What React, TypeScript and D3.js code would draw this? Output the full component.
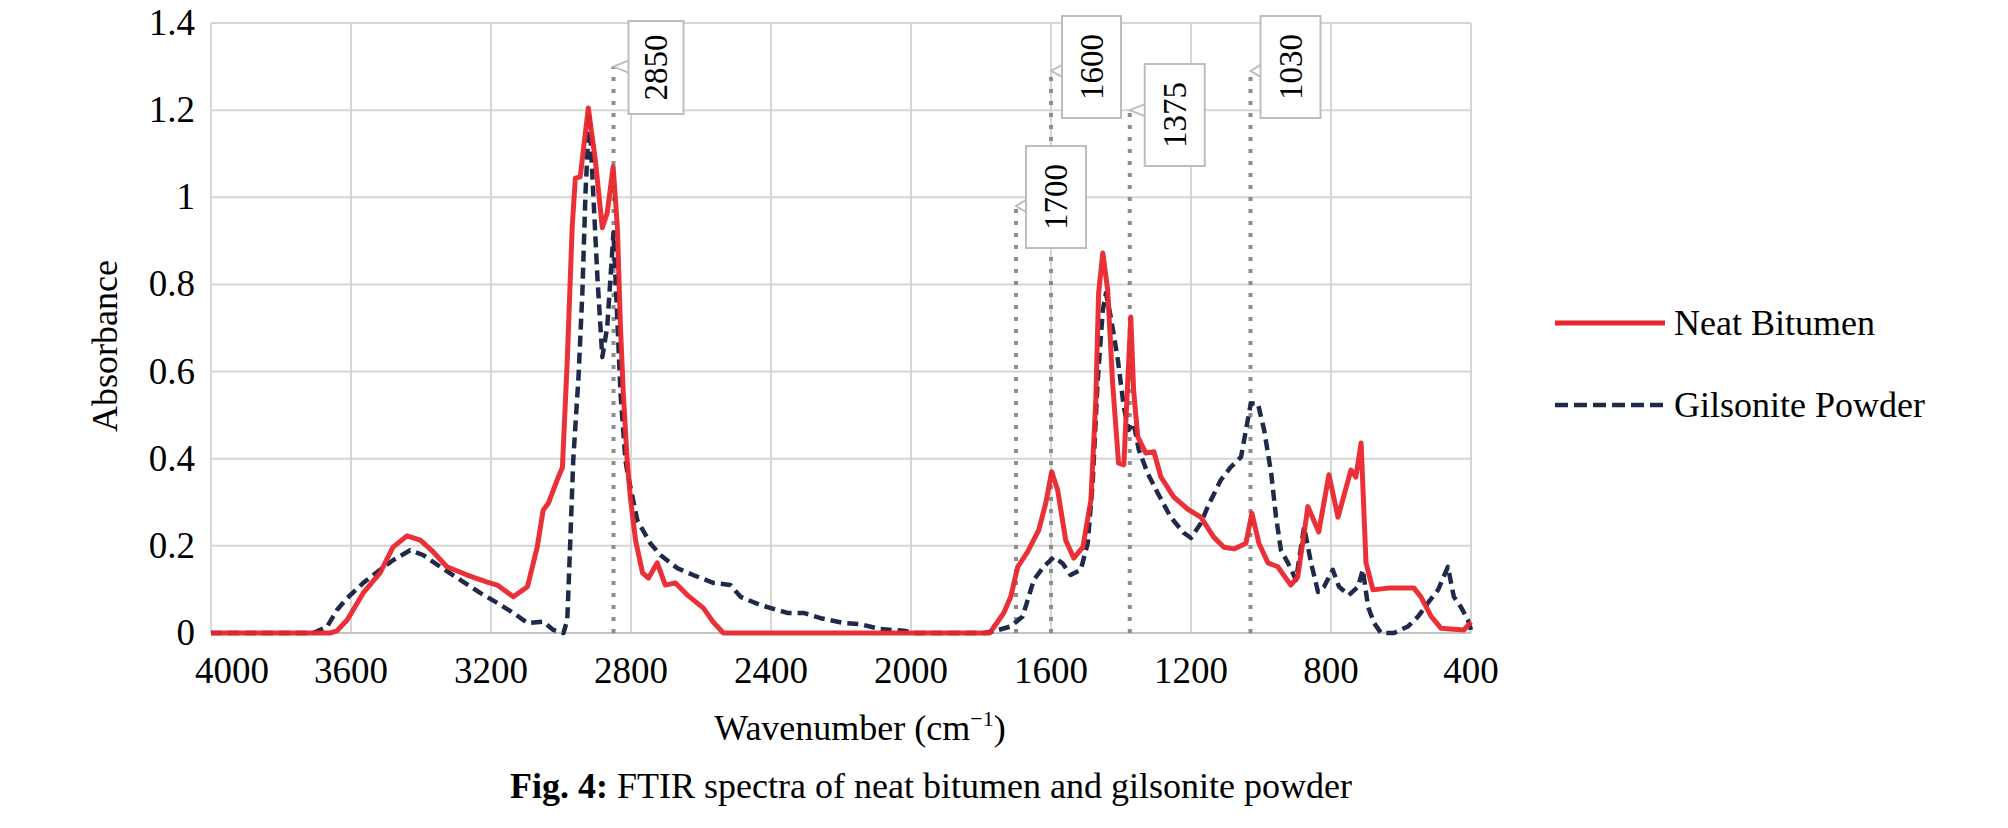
import * as d3 from "d3";

// axis ticks
const wavenumberTicks = [4000, 3600, 3200, 2800, 2400, 2000, 1600, 1200, 800, 400];
const absorbanceTicks = [0, 0.2, 0.4, 0.6, 0.8, 1, 1.2, 1.4];

// [wavenumber, absorbance]
const neatBitumen: [number, number][] = [
  [4000, 0], [3660, 0], [3640, 0.005], [3611, 0.03], [3565, 0.092], [3517, 0.138],
  [3480, 0.197], [3440, 0.223], [3402, 0.213], [3365, 0.186], [3326, 0.152],
  [3268, 0.133], [3211, 0.117], [3182, 0.11], [3136, 0.083], [3096, 0.106],
  [3068, 0.197], [3051, 0.282], [3036, 0.298], [3011, 0.351], [2996, 0.38],
  [2982, 0.627], [2968, 0.932], [2959, 1.044], [2945, 1.047], [2922, 1.205],
  [2902, 1.086], [2882, 0.93], [2868, 0.964], [2851, 1.07], [2839, 0.932],
  [2830, 0.7], [2822, 0.55], [2811, 0.397], [2802, 0.312], [2787, 0.213],
  [2767, 0.138], [2750, 0.126], [2725, 0.161], [2702, 0.11], [2673, 0.115],
  [2639, 0.087], [2593, 0.057], [2565, 0.025], [2536, 0], [1775, 0],
  [1735, 0.046], [1715, 0.083], [1695, 0.152], [1667, 0.186], [1635, 0.236],
  [1615, 0.298], [1598, 0.37], [1581, 0.328], [1558, 0.213], [1535, 0.172],
  [1509, 0.197], [1486, 0.305], [1472, 0.535], [1464, 0.78], [1452, 0.872],
  [1438, 0.787], [1424, 0.574], [1407, 0.39], [1392, 0.386], [1372, 0.725],
  [1364, 0.557], [1352, 0.45], [1329, 0.413], [1306, 0.416], [1286, 0.358],
  [1249, 0.312], [1209, 0.284], [1172, 0.266], [1135, 0.22], [1106, 0.197],
  [1077, 0.193], [1043, 0.206], [1026, 0.275], [1006, 0.206], [980, 0.161],
  [952, 0.152], [915, 0.11], [895, 0.129], [866, 0.29], [835, 0.232],
  [806, 0.363], [780, 0.266], [743, 0.374], [729, 0.358], [714, 0.436],
  [700, 0.161], [680, 0.099], [637, 0.103], [563, 0.103], [543, 0.083],
  [514, 0.038], [486, 0.011], [420, 0.007], [400, 0.025],
];

const gilsonitePowder: [number, number][] = [
  [4000, 0], [3708, 0], [3668, 0.015], [3640, 0.053], [3611, 0.08], [3565, 0.115],
  [3517, 0.145], [3480, 0.167], [3431, 0.19], [3394, 0.179], [3345, 0.152],
  [3288, 0.122], [3231, 0.092], [3182, 0.069], [3136, 0.046], [3096, 0.023],
  [3051, 0.026], [3022, 0.007], [2993, 0], [2982, 0.03], [2974, 0.2],
  [2965, 0.397], [2950, 0.588], [2939, 0.78], [2930, 1.01], [2919, 1.193],
  [2908, 1.01], [2896, 0.817], [2882, 0.633], [2868, 0.702], [2850, 0.92],
  [2830, 0.55], [2816, 0.397], [2810, 0.367], [2782, 0.259], [2745, 0.206],
  [2716, 0.179], [2668, 0.149], [2622, 0.133], [2565, 0.115], [2516, 0.11],
  [2487, 0.083], [2430, 0.064], [2353, 0.046], [2307, 0.046], [2258, 0.034],
  [2193, 0.023], [2144, 0.02], [2087, 0.009], [2021, 0.005], [1990, 0],
  [1790, 0], [1760, 0.005], [1715, 0.015], [1681, 0.038], [1649, 0.122],
  [1621, 0.152], [1592, 0.174], [1567, 0.16], [1544, 0.133], [1515, 0.145],
  [1495, 0.206], [1481, 0.344], [1467, 0.574], [1452, 0.741], [1443, 0.78],
  [1429, 0.725], [1409, 0.627], [1392, 0.519], [1378, 0.466], [1364, 0.482],
  [1349, 0.42], [1324, 0.367], [1295, 0.321], [1258, 0.266], [1221, 0.23],
  [1200, 0.218], [1172, 0.252], [1152, 0.29], [1115, 0.351], [1086, 0.381],
  [1057, 0.404], [1043, 0.466], [1029, 0.527], [1009, 0.527], [991, 0.466],
  [971, 0.367], [957, 0.266], [943, 0.19], [923, 0.161], [900, 0.122],
  [877, 0.243], [857, 0.161], [837, 0.094], [820, 0.106], [795, 0.145],
  [777, 0.106], [749, 0.087], [723, 0.106], [709, 0.145], [694, 0.06],
  [677, 0.023], [657, 0], [620, 0], [580, 0.015], [551, 0.038], [523, 0.069],
  [494, 0.099], [466, 0.152], [449, 0.083], [429, 0.06], [409, 0.03], [400, 0.007],
];

// marked bands: wavenumber and the height the dotted marker reaches
const peakLabels = ["2850", "1700", "1600", "1375", "1030"];
const peakWavenumbers = [2850, 1700, 1600, 1375, 1030];
const peakMarkerTops = [1.3, 0.98, 1.29, 1.2, 1.29];

const seriesNames = ["Neat Bitumen", "Gilsonite Powder"];

// callout placement (layout, not data): offset from marker, box top, size
const calloutLayout = [
  { dx: 15, top: 21, w: 55, h: 93 },
  { dx: 10, top: 146, w: 60, h: 102 },
  { dx: 11, top: 16, w: 59, h: 102 },
  { dx: 15, top: 64, w: 60, h: 102 },
  { dx: 10, top: 16, w: 60, h: 102 },
];

const W = 2008;
const H = 828;
const FONT = "'Liberation Serif', 'Times New Roman', serif";
const RED = "#e8262c";
const NAVY = "#1f2a4a";
const GRID = "#d6d6d6";

export default function App() {
  const x = d3.scaleLinear().domain([4000, 400]).range([211, 1471]);
  const y = d3.scaleLinear().domain([0, 1.4]).range([633, 23]);

  const line = d3
    .line<[number, number]>()
    .x((d) => x(d[0]))
    .y((d) => y(d[1]));

  const fmtY = (v: number) => String(Number(v.toFixed(1)));

  return (
    <svg
      width={W}
      height={H}
      style={{ position: "absolute", left: 0, top: 0, background: "#fff" }}
      fontFamily={FONT}
    >
      <rect width={W} height={H} fill="#fff" />

      {/* grid */}
      {absorbanceTicks.map((t) => (
        <line key={"h" + t} x1={x(4000)} x2={x(400)} y1={y(t)} y2={y(t)} stroke={GRID} strokeWidth={2} />
      ))}
      {wavenumberTicks.map((t) => (
        <line key={"v" + t} x1={x(t)} x2={x(t)} y1={y(0)} y2={y(1.4)} stroke={GRID} strokeWidth={2} />
      ))}
      <line x1={x(4000)} x2={x(400)} y1={y(0)} y2={y(0)} stroke="#c4c4c4" strokeWidth={2} />

      {/* y tick labels */}
      {absorbanceTicks.map((t) => (
        <text key={"yl" + t} x={195} y={y(t) + 12} textAnchor="end" fontSize={37} fill="#000">
          {fmtY(t)}
        </text>
      ))}
      {/* x tick labels (first one kept inside the plot edge) */}
      {wavenumberTicks.map((t, i) => (
        <text key={"xl" + t} x={x(t) + (i === 0 ? 21 : 0)} y={683} textAnchor="middle" fontSize={37} fill="#000">
          {t}
        </text>
      ))}

      {/* dotted band markers */}
      {peakWavenumbers.map((w, i) => (
        <line
          key={"m" + w}
          x1={x(w)}
          x2={x(w)}
          y1={y(0)}
          y2={y(peakMarkerTops[i])}
          stroke="#8c8c8c"
          strokeWidth={4}
          strokeDasharray="4 8"
        />
      ))}

      {/* series */}
      <path
        d={line(gilsonitePowder) || ""}
        fill="none"
        stroke={NAVY}
        strokeWidth={4.5}
        strokeDasharray="11 6"
        strokeLinejoin="round"
      />
      <path
        d={line(neatBitumen) || ""}
        fill="none"
        stroke={RED}
        strokeWidth={5}
        strokeLinejoin="round"
        opacity={0.95}
      />

      {/* callouts */}
      {peakWavenumbers.map((w, i) => {
        const L = calloutLayout[i];
        const lx = x(w);
        const ly = y(peakMarkerTops[i]);
        const bx = lx + L.dx;
        const anchor = Math.min(Math.max(ly, L.top + 10), L.top + L.h - 10);
        const cx = bx + L.w / 2;
        const cy = L.top + L.h / 2;
        return (
          <g key={"c" + w}>
            <path
              d={`M${bx},${anchor - 6} L${lx},${ly} L${bx},${anchor + 6}`}
              fill="#fff"
              stroke="#bdbdbd"
              strokeWidth={2}
            />
            <rect x={bx} y={L.top} width={L.w} height={L.h} fill="#fff" stroke="#bdbdbd" strokeWidth={2} />
            <text
              transform={`translate(${cx + 11},${cy}) rotate(-90)`}
              textAnchor="middle"
              fontSize={33}
              fill="#000"
            >
              {peakLabels[i]}
            </text>
          </g>
        );
      })}

      {/* axis titles */}
      <text transform="translate(117,346) rotate(-90)" textAnchor="middle" fontSize={36} fill="#000">
        Absorbance
      </text>
      <text x={860} y={740} textAnchor="middle" fontSize={36} fill="#000">
        Wavenumber (cm
        <tspan dy={-14} fontSize={22}>−1</tspan>
        <tspan dy={14}>)</tspan>
      </text>

      {/* legend */}
      <line x1={1555} x2={1665} y1={323} y2={323} stroke={RED} strokeWidth={5} />
      <text x={1674} y={335} fontSize={36} fill="#000">{seriesNames[0]}</text>
      <line x1={1555} x2={1665} y1={405} y2={405} stroke={NAVY} strokeWidth={4.5} strokeDasharray="13 6" />
      <text x={1674} y={417} fontSize={36} fill="#000">{seriesNames[1]}</text>

      {/* caption */}
      <text x={931} y={798} textAnchor="middle" fontSize={36} fill="#000">
        <tspan fontWeight="bold">Fig. 4:</tspan> FTIR spectra of neat bitumen and gilsonite powder
      </text>
    </svg>
  );
}
